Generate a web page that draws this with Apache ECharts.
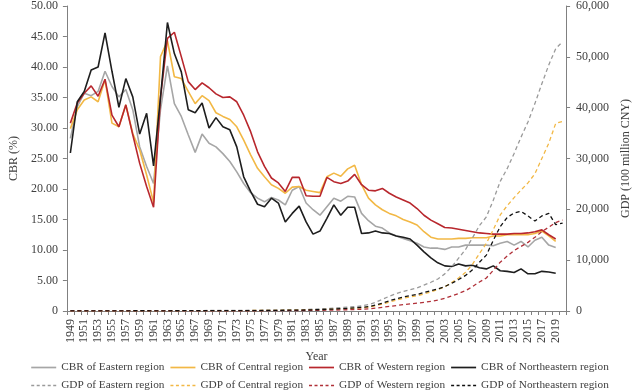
<!DOCTYPE html>
<html><head><meta charset="utf-8">
<script src="https://cdn.jsdelivr.net/npm/echarts@6/dist/echarts.min.js"></script>
<style>html,body{margin:0;padding:0;background:#fff}#c{width:640px;height:392px}</style>
</head><body><div id="c"></div>
<script>
const years = ['1949','1950','1951','1952','1953','1954','1955','1956','1957','1958','1959',
'1960','1961','1962','1963','1964','1965','1966','1967','1968','1969',
'1970','1971','1972','1973','1974','1975','1976','1977','1978','1979',
'1980','1981','1982','1983','1984','1985','1986','1987','1988','1989',
'1990','1991','1992','1993','1994','1995','1996','1997','1998','1999',
'2000','2001','2002','2003','2004','2005','2006','2007','2008','2009',
'2010','2011','2012','2013','2014','2015','2016','2017','2018','2019','2020'];

// CBR (%) 1949-2019
const cbrEastern = [28.3,
33.5,35.7,35.3,36.0,39.3,36.8,35.1,36.3,33.0,26.9,
23.7,20.9,33.0,40.2,34.0,31.9,28.9,26.0,29.0,27.5,
26.9,25.8,24.5,22.8,20.9,19.4,18.5,17.9,18.6,18.2,
17.4,19.8,20.4,17.7,16.6,15.7,17.1,18.5,18.0,18.8,
18.7,16.0,14.8,13.9,13.6,12.8,12.3,11.9,11.5,11.1,
10.5,10.3,10.3,10.1,10.5,10.5,10.8,10.8,10.8,10.8,
10.7,11.1,11.4,10.8,11.4,10.5,11.6,12.1,10.8,10.4];
const cbrCentral = [29.9,
33.0,34.6,35.1,34.3,37.9,30.8,30.2,33.8,29.1,26.4,
22.3,17.8,41.7,44.3,38.4,38.1,36.0,34.0,35.3,34.5,
32.5,31.9,31.4,30.2,28.0,25.6,23.4,22.0,20.7,20.1,
19.3,20.3,20.4,19.8,19.6,19.4,22.0,22.6,22.1,23.3,
23.9,20.7,18.5,17.4,16.6,16.0,15.6,15.0,14.6,14.1,
13.0,12.1,11.8,11.8,11.8,11.9,11.9,12.0,12.0,12.0,
12.3,12.3,12.5,12.5,12.5,12.5,12.7,13.1,12.3,11.4];
const cbrWestern = [30.8,
34.1,35.7,36.9,35.2,38.0,32.1,30.2,33.8,28.9,24.2,
20.4,17.0,35.0,44.7,45.7,41.7,37.6,36.3,37.4,36.6,
35.6,35.0,35.1,34.3,32.1,29.4,26.1,23.7,21.8,21.0,
19.6,21.9,21.9,18.9,18.8,18.8,21.9,21.2,20.9,21.3,
22.4,20.7,19.8,19.7,20.1,19.3,18.7,18.2,17.7,16.8,
15.7,14.9,14.3,13.7,13.6,13.4,13.2,13.0,12.8,12.7,
12.6,12.6,12.6,12.7,12.7,12.8,13.0,13.3,12.5,11.8];
const cbrNortheastern = [25.9,
34.3,36.0,39.5,40.0,45.6,39.3,33.4,38.1,35.1,29.0,
32.4,23.8,35.0,47.3,42.2,39.2,33.0,32.5,34.1,30.0,
31.7,30.2,29.7,26.9,22.0,19.6,17.5,17.1,18.5,17.7,
14.6,16.0,17.2,14.6,12.6,13.1,15.2,17.4,15.7,17.0,
17.0,12.7,12.8,13.1,12.8,12.7,12.3,12.1,11.8,10.8,
9.7,8.7,7.9,7.4,7.3,7.7,7.4,7.5,7.1,6.9,
7.4,6.6,6.5,6.3,6.9,6.1,6.1,6.5,6.4,6.2];

// GDP (100 million CNY) 1949-2020
const gdpEastern = [20,25,30,35,40,45,48,52,58,70,78,
80,65,62,66,74,85,92,88,86,96,
110,118,122,132,136,146,148,162,180,202,
220,236,262,292,350,420,480,565,690,770,
860,990,1250,1700,2300,2900,3400,3850,4200,4550,
5100,5650,6300,7300,8700,10400,12100,14400,16800,18500,
21800,25500,28000,31000,34200,37200,40800,44700,48400,51600,
53000];
const gdpCentral = [15,18,20,24,27,30,32,35,37,45,48,
46,40,40,43,48,55,60,58,56,62,
72,78,80,86,88,94,96,104,120,135,
150,160,175,195,230,275,315,360,430,480,
520,600,740,1000,1350,1750,2150,2500,2750,3000,
3350,3750,4200,4750,5600,6500,7600,9200,11300,13300,
16000,18900,20700,22300,23800,25200,27000,30000,33000,36900,
37300];
const gdpWestern = [8,9,10,12,14,15,16,18,19,23,25,
24,20,20,22,25,28,31,30,29,32,
37,40,42,45,46,49,50,54,62,70,
76,82,90,100,118,140,160,185,220,245,
290,350,430,550,720,900,1080,1250,1400,1550,
1700,1900,2150,2500,2950,3450,4000,4800,5700,6500,
8000,9600,10800,11900,12700,13500,14500,15600,16500,17400,
17900];
const gdpNortheastern = [15,17,20,24,27,30,32,35,38,45,50,
52,40,38,42,48,55,60,55,52,58,
66,72,75,80,82,86,88,95,110,125,
150,165,180,200,235,280,330,390,460,530,
620,700,850,1150,1550,2000,2400,2750,3000,3250,
3650,4000,4350,4800,5450,6200,7000,8100,9600,11000,
13900,16600,18400,19300,19600,18700,17700,18700,19200,17000,
17300];

const font = '"Liberation Serif","Times New Roman",serif';
const txt = '#404040';
const axisCol = '#808080';

const cbrDefs = [
  ['CBR of Eastern region', cbrEastern, '#a6a6a6'],
  ['CBR of Central region', cbrCentral, '#f2b845'],
  ['CBR of Western region', cbrWestern, '#b8272d'],
  ['CBR of Northeastern region', cbrNortheastern, '#1e1e1e']
];
const gdpDefs = [
  ['GDP of Eastern region', gdpEastern, '#9a9a9a'],
  ['GDP of Central region', gdpCentral, '#f2b845'],
  ['GDP of Western region', gdpWestern, '#b03038'],
  ['GDP of Northeastern region', gdpNortheastern, '#111111']
];

const solidIcon = 'path://M0,0H25V1.7H0Z';
const dashIcon = 'path://M0,0h3v1.4h-3z M5.5,0h3v1.4h-3z M11,0h3v1.4h-3z M16.5,0h3v1.4h-3z M22,0h3v1.4h-3z';

const series = [];
cbrDefs.forEach(d => series.push({
  name: d[0], type: 'line', yAxisIndex: 0, data: d[1], symbol: 'none',
  lineStyle: {color: d[2], width: 1.6}, itemStyle: {color: d[2]}
}));
gdpDefs.forEach(d => series.push({
  name: d[0], type: 'line', yAxisIndex: 1, data: d[1], symbol: 'none',
  lineStyle: {color: d[2], width: 1.3, type: [4, 3]}, itemStyle: {color: d[2]}
}));

const legendBase = {
  left: 'center', itemWidth: 25, itemHeight: 8, itemGap: 6,
  textStyle: {fontFamily: font, fontSize: 11.3, color: txt}
};

const option = {
  animation: false,
  textStyle: {fontFamily: font},
  grid: {left: 57, right: 63, top: 6, bottom: 81},
  legend: [
    Object.assign({}, legendBase, {top: 357, data: cbrDefs.map(d => ({name: d[0], icon: solidIcon}))}),
    Object.assign({}, legendBase, {top: 375, data: gdpDefs.map(d => ({name: d[0], icon: dashIcon}))})
  ],
  xAxis: {
    type: 'category', data: years, boundaryGap: true,
    name: 'Year', nameLocation: 'middle', nameGap: 28,
    nameTextStyle: {fontFamily: font, fontSize: 12, color: txt},
    axisLine: {lineStyle: {color: axisCol}},
    axisTick: {show: true, interval: 0, length: 4, lineStyle: {color: axisCol}},
    axisLabel: {interval: 1, rotate: 90, margin: 8, fontFamily: font, fontSize: 12, color: txt}
  },
  yAxis: [
    {
      type: 'value', min: 0, max: 50, interval: 5, position: 'left',
      name: 'CBR (%)', nameLocation: 'middle', nameGap: 40, nameRotate: 90,
      nameTextStyle: {fontFamily: font, fontSize: 12, color: txt},
      axisLine: {show: true, lineStyle: {color: axisCol}},
      axisTick: {show: true, length: 4, lineStyle: {color: axisCol}},
      splitLine: {show: false},
      axisLabel: {margin: 9, fontFamily: font, fontSize: 12, color: txt,
        formatter: v => v === 0 ? '0' : v.toFixed(2)}
    },
    {
      type: 'value', min: 0, max: 60000, interval: 10000, position: 'right',
      name: 'GDP (100 million CNY)', nameLocation: 'middle', nameGap: 50, nameRotate: 90,
      nameTextStyle: {fontFamily: font, fontSize: 12, color: txt},
      axisLine: {show: true, lineStyle: {color: axisCol}},
      axisTick: {show: true, length: 4, lineStyle: {color: axisCol}},
      splitLine: {show: false},
      axisLabel: {margin: 10, fontFamily: font, fontSize: 12, color: txt,
        formatter: v => v.toLocaleString('en-US')}
    }
  ],
  series: series
};
const chart = echarts.init(document.getElementById('c'));
chart.setOption(option);
</script>
</body></html>
